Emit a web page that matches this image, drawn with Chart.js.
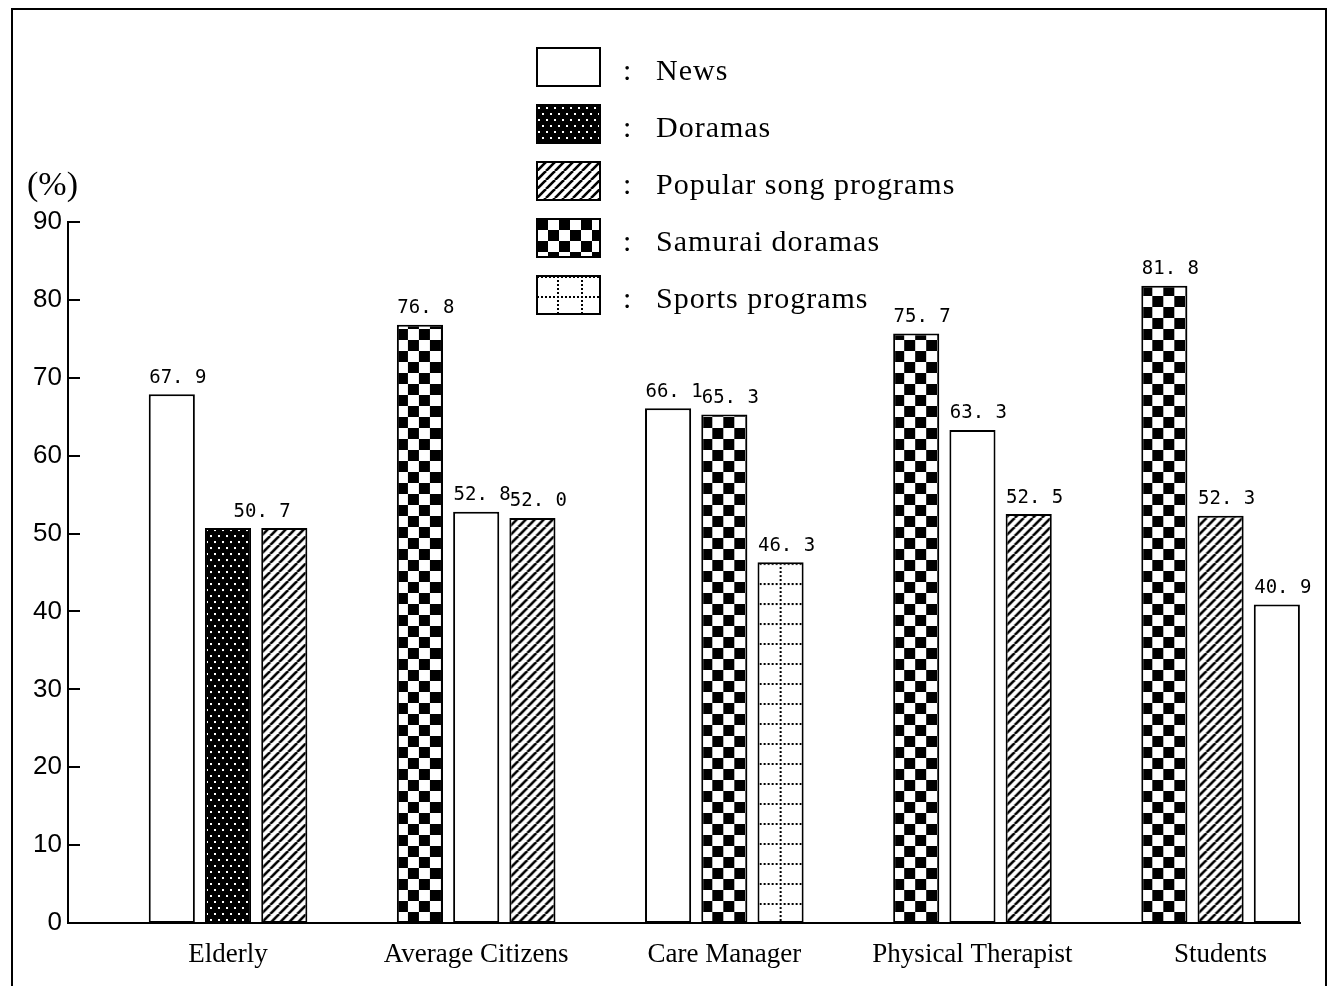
<!DOCTYPE html>
<html>
<head>
<meta charset="utf-8">
<script src="https://cdn.jsdelivr.net/npm/chart.js@4.4.0/dist/chart.umd.min.js"></script>
<style>
  html, body { margin: 0; padding: 0; background: #fff; }
  #wrap { position: relative; width: 1332px; height: 986px; }
</style>
</head>
<body>
<div id="wrap"><canvas id="chart"></canvas></div>
<script>
const CATEGORIES = ['Elderly', 'Average Citizens', 'Care Manager', 'Physical Therapist', 'Students'];
const SERIES = ['News', 'Doramas', 'Popular song programs', 'Samurai doramas', 'Sports programs'];

// each group shows three programmes, left to right
const FIRST_SERIES = ['News', 'Samurai doramas', 'News', 'Samurai doramas', 'Samurai doramas'];
const FIRST_VALUES = [67.9, 76.8, 66.1, 75.7, 81.8];
const SECOND_SERIES = ['Doramas', 'News', 'Samurai doramas', 'News', 'Popular song programs'];
const SECOND_VALUES = [50.7, 52.8, 65.3, 63.3, 52.3];
const THIRD_SERIES = ['Popular song programs', 'Popular song programs', 'Sports programs', 'Popular song programs', 'News'];
const THIRD_VALUES = [50.7, 52.0, 46.3, 52.5, 40.9];

const Y_TICKS = [0, 10, 20, 30, 40, 50, 60, 70, 80, 90];
const Y_UNIT = '(%)';

const POSITION_SERIES = [FIRST_SERIES, SECOND_SERIES, THIRD_SERIES];
const POSITION_VALUES = [FIRST_VALUES, SECOND_VALUES, THIRD_VALUES];

const CAT_PCT = 0.68;
const BAR_PCT = 0.82;
const SERIF = '"Liberation Serif", "Times New Roman", serif';

function makeTile(w, h, paint) {
  const c = document.createElement('canvas');
  c.width = w;
  c.height = h;
  paint(c.getContext('2d'), w, h);
  return c;
}

const TILES = {
  'Doramas': makeTile(8, 12, (g, w, h) => {
    g.fillStyle = '#000';
    g.fillRect(0, 0, w, h);
    g.fillStyle = '#fff';
    g.fillRect(1, 2, 2, 2);
    g.fillRect(5, 8, 2, 2);
  }),
  'Popular song programs': makeTile(9, 9, (g, w, h) => {
    g.fillStyle = '#fff';
    g.fillRect(0, 0, w, h);
    g.strokeStyle = '#000';
    g.lineWidth = 2.6;
    for (const k of [-9, 0, 9]) {
      g.beginPath();
      g.moveTo(k, h);
      g.lineTo(k + w, 0);
      g.stroke();
    }
  }),
  'Samurai doramas': makeTile(22, 22, (g, w, h) => {
    g.fillStyle = '#fff';
    g.fillRect(0, 0, w, h);
    g.fillStyle = '#000';
    g.fillRect(0, 0, 11, 11);
    g.fillRect(11, 11, 11, 11);
  }),
  'Sports programs': makeTile(24, 20, (g, w, h) => {
    g.fillStyle = '#fff';
    g.fillRect(0, 0, w, h);
    g.fillStyle = '#000';
    for (let i = 0; i < h; i += 4) g.fillRect(0, i, 2, 2);
    for (let i = 0; i < w; i += 4) g.fillRect(i, 0, 2, 2);
  }),
};

function patternAt(series, g, x, y) {
  const tile = TILES[series];
  if (!tile) return '#fff';
  const p = g.createPattern(tile, 'repeat');
  p.setTransform(new DOMMatrix().translate(x, y));
  return p;
}

function barFill(c) {
  const series = POSITION_SERIES[c.datasetIndex][c.dataIndex];
  const chart = c.chart;
  const xs = chart.scales.x;
  const ys = chart.scales.y;
  if (!xs || !ys || c.type !== 'data') return '#fff';
  const slot = (xs.getPixelForValue(1) - xs.getPixelForValue(0)) * CAT_PCT / 3;
  const center = xs.getPixelForValue(c.dataIndex) + (c.datasetIndex - 1) * slot;
  const left = center - slot * BAR_PCT / 2;
  const ax = series === 'Sports programs' ? center - 1 : left;
  return patternAt(series, chart.ctx, ax, ys.getPixelForValue(0));
}

const fmt = v => v.toFixed(1).replace('.', '. ');

const valueLabels = {
  id: 'valueLabels',
  afterDatasetsDraw(chart) {
    const g = chart.ctx;
    g.save();
    g.font = '19px "DejaVu Sans Mono", monospace';
    g.fillStyle = '#000';
    g.textAlign = 'center';
    g.textBaseline = 'bottom';
    CATEGORIES.forEach((_, i) => {
      const bars = POSITION_VALUES.map((vals, d) => ({ v: vals[i], el: chart.getDatasetMeta(d).data[i] }));
      for (let k = 0; k < bars.length; k++) {
        const b = bars[k];
        let x = b.el.x;
        // equal neighbours share one label
        if (k + 1 < bars.length && bars[k + 1].v === b.v) {
          x = (b.el.x + bars[k + 1].el.x) / 2;
          k++;
        }
        g.fillText(fmt(b.v), x + 6, b.el.y - 7);
      }
    });
    g.restore();
  }
};

const decorations = {
  id: 'decorations',
  afterDraw(chart) {
    const g = chart.ctx;
    const ys = chart.scales.y;
    const area = chart.chartArea;
    g.save();
    g.strokeStyle = '#000';
    g.fillStyle = '#000';

    // inward tick marks
    g.lineWidth = 2;
    Y_TICKS.slice(1).forEach(v => {
      const y = Math.round(ys.getPixelForValue(v));
      g.beginPath();
      g.moveTo(area.left, y);
      g.lineTo(area.left + 12, y);
      g.stroke();
    });

    // unit
    g.font = '34px ' + SERIF;
    g.textAlign = 'left';
    g.textBaseline = 'middle';
    g.fillText(Y_UNIT, 27, 186);

    // frame
    g.lineWidth = 2;
    g.beginPath();
    g.moveTo(12, 990);
    g.lineTo(12, 9);
    g.lineTo(1326, 9);
    g.lineTo(1326, 990);
    g.stroke();

    // legend
    const boxX = 537, boxW = 63, boxH = 38;
    g.letterSpacing = '1px';
    SERIES.forEach((s, i) => {
      const rowY = 72 + i * 57;
      const top = rowY - 24;
      g.fillStyle = patternAt(s, g, s === 'Sports programs' ? boxX + 20 : boxX, top);
      g.fillRect(boxX, top, boxW, boxH);
      g.lineWidth = 2;
      g.strokeStyle = '#000';
      g.strokeRect(boxX, top, boxW, boxH);
      g.fillStyle = '#000';
      g.font = '30px ' + SERIF;
      g.textBaseline = 'middle';
      g.fillText(':', 623, rowY);
      g.fillText(s, 656, rowY);
    });
    g.restore();
  }
};

const datasets = POSITION_VALUES.map((vals, d) => ({
  label: 'position ' + (d + 1),
  data: vals.map((v, i) => ({ x: i, y: v })),
  backgroundColor: barFill,
  borderColor: '#000',
  borderWidth: 2,
  borderSkipped: false,
  categoryPercentage: CAT_PCT,
  barPercentage: BAR_PCT,
}));

new Chart(document.getElementById('chart'), {
  type: 'bar',
  data: { datasets },
  plugins: [valueLabels, decorations],
  options: {
    responsive: true,
    maintainAspectRatio: false,
    animation: false,
    layout: { padding: { top: 222, right: 32, left: 0, bottom: 0 } },
    plugins: { legend: { display: false }, tooltip: { enabled: false } },
    scales: {
      x: {
        type: 'linear',
        offset: false,
        min: -0.645,
        max: 4.32,
        afterBuildTicks: s => { s.ticks = CATEGORIES.map((_, i) => ({ value: i })); },
        afterFit: s => { s.height = 63; },
        grid: { display: false, drawTicks: false, offset: false },
        border: { display: true, color: '#000', width: 2 },
        ticks: {
          autoSkip: false,
          maxRotation: 0,
          padding: 16,
          color: '#000',
          font: { family: SERIF, size: 27 },
          callback: v => CATEGORIES[v] ?? '',
        },
      },
      y: {
        min: 0,
        max: 90,
        afterBuildTicks: s => { s.ticks = Y_TICKS.map(v => ({ value: v })); },
        afterFit: s => { s.width = 68; },
        grid: { display: false, drawTicks: false },
        border: { display: true, color: '#000', width: 2 },
        ticks: {
          padding: 6,
          color: '#000',
          font: { family: '"Liberation Sans", Arial, sans-serif', size: 26 },
        },
      },
    },
  },
});
</script>
</body>
</html>
